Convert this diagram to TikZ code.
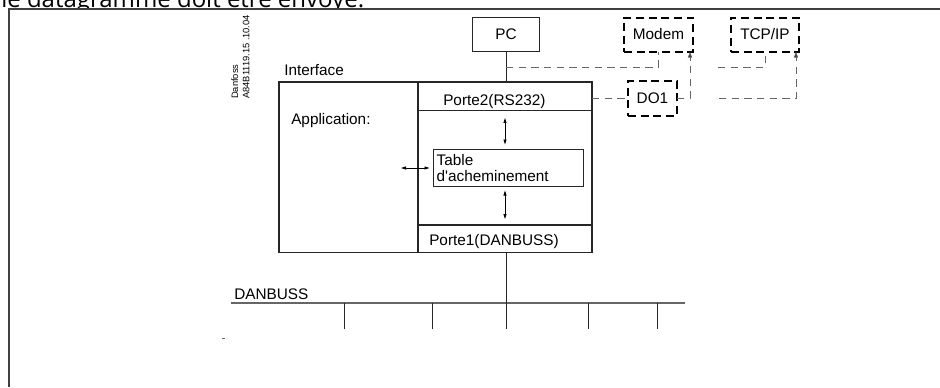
\documentclass[tikz,border=0pt]{standalone}
\usepackage{fontspec}
\setmainfont{Liberation Sans}
\newfontfamily\headfont{Open Sans}
\usetikzlibrary{arrows.meta}

\begin{document}
\begin{tikzpicture}[x=0.75pt,y=-0.75pt,
    font=\fontsize{11.5}{12.5}\selectfont,
    wire/.style={draw=black!85, line width=0.8pt},
    cell/.style={inner sep=0pt, outer sep=0pt, minimum width=130.5pt},
    optbox/.style={draw=black, line width=1.5pt, dash pattern=on 6pt off 3.5pt,
      inner sep=0pt, outer sep=0pt, minimum height=25.5pt},
    link/.style={draw=black!60, line width=0.75pt, dash pattern=on 5.5pt off 4pt},
    toopt/.style={-{Triangle[length=4.5pt,width=3pt,fill=black]}},
    twoway/.style={{Triangle[length=3.75pt,width=2.25pt]}-{Triangle[length=3.75pt,width=2.25pt]},
      line width=0.6pt}]
  \useasboundingbox (0,0) rectangle (940,387);
  % cut-off line of the page above
  \begin{scope}
    \clip (0,0) rectangle (940,8.4);
    \node[anchor=base west, inner sep=0pt, font=\headfont\fontsize{18}{20}\selectfont]
      (Head) at (1,7.6) {le datagramme doit être envoyé.};
  \end{scope}
  \draw[draw=black!75, line width=1pt] (9,387) |- (940,9);
  \node[rotate=90, anchor=north west, align=left, inner sep=0pt,
    font=\fontsize{7}{8.5}\selectfont] (Code) at (231,99) {Danfoss\\A84B1119.15 .10.04};
  % interface
  \node[wire, line width=0.9pt, inner sep=0pt, outer sep=0pt, minimum width=234.75pt,
    minimum height=127.9pt] (Iface) at (435.5,167.25) {};
  \node[anchor=base west, inner sep=0pt] (IfaceTxt) at (284,75) {Interface};
  \node[anchor=base west, inner sep=0pt] (App) at (291,124.5) {Application:};
  \node[cell, minimum height=21.4pt] (Porte2) at (505,96.25) {};
  \node[cell, minimum height=20.6pt] (Porte1) at (505,238.75) {};
  \draw[wire, line width=1.3pt] (Porte2.north west) -- (Porte1.south west);
  \draw[wire, line width=1.3pt] (Porte2.south west) -- (Porte2.south east);
  \draw[wire, line width=1.3pt] (Porte1.north west) -- (Porte1.north east);
  \node[anchor=base west, inner sep=0pt] (P2Txt) at (443,105) {Porte2(RS232)};
  \node[anchor=base west, inner sep=0pt] (P1Txt) at (429,245.5) {Porte1(DANBUSS)};
  \node[wire, line width=0.75pt, inner xsep=2.75pt, inner ysep=0pt, text width=107pt,
    minimum height=28pt, align=left] (Table) at (508,168) {Table\\d\textquotesingle acheminement};
  \coordinate (AppIn) at (401,168);
  \draw[twoway, shorten >=2.25pt] (AppIn) -- (Table.west);
  \draw[twoway, shorten <=5.6pt, shorten >=3.2pt] (Porte2.south) -- (Porte2.south |- Table.north);
  \draw[twoway, shorten <=2.5pt, shorten >=4.5pt] (Porte1.north |- Table.south) -- (Porte1.north);
  % PC and the optional links
  \node[wire, line width=0.75pt, inner sep=0pt, outer sep=0pt, minimum width=50.25pt,
    minimum height=25.5pt] (PC) at (506,34.5) {PC};
  \node[optbox, minimum width=51.75pt] (Modem) at (658.5,34.5) {Modem};
  \node[optbox, minimum width=51pt] (TCP) at (765,34.5) {TCP/IP};
  \node[optbox, minimum width=36.75pt, minimum height=26pt] (DO) at (652.5,98.3) {DO1};
  \draw[wire, line width=0.75pt] (PC.south) -- (PC.south |- Iface.north);
  \coordinate (PCtap) at (PC.south |- 0,67);
  \draw[link] (PCtap) -| (Modem.south);
  \draw[link] (Porte2.east |- DO.west) -- (DO.west);
  \draw[link, toopt] (DO.east) -| ([xshift=-2.25pt]Modem.south east);
  \coordinate (TcpA) at (718,67);
  \coordinate (TcpB) at (719,98.3);
  \draw[link] (TcpA) -| (TCP.south);
  \draw[link, toopt] (TcpB) -| ([xshift=-2.25pt]TCP.south east);
  % bus
  \coordinate (BusW) at (231,303);
  \coordinate (BusE) at (685,303);
  \draw[draw=black!60, line width=1.1pt] (BusW) -- (BusE);
  \node[anchor=base west, inner sep=0pt] (Danbuss) at (234,299) {DANBUSS};
  \coordinate (Drop) at (506,329);
  \draw[wire, line width=0.75pt] (Porte1.south -| Drop) -- (Drop);
  \foreach \x [count=\i] in {344,432,588,657} {
    \coordinate (T\i) at (\x,329);
    \draw[wire, line width=0.75pt] (T\i |- BusW) -- (T\i);
  }
  \fill[black!60] (222,337.6) rectangle (224.5,338.6);
\end{tikzpicture}
\end{document}
